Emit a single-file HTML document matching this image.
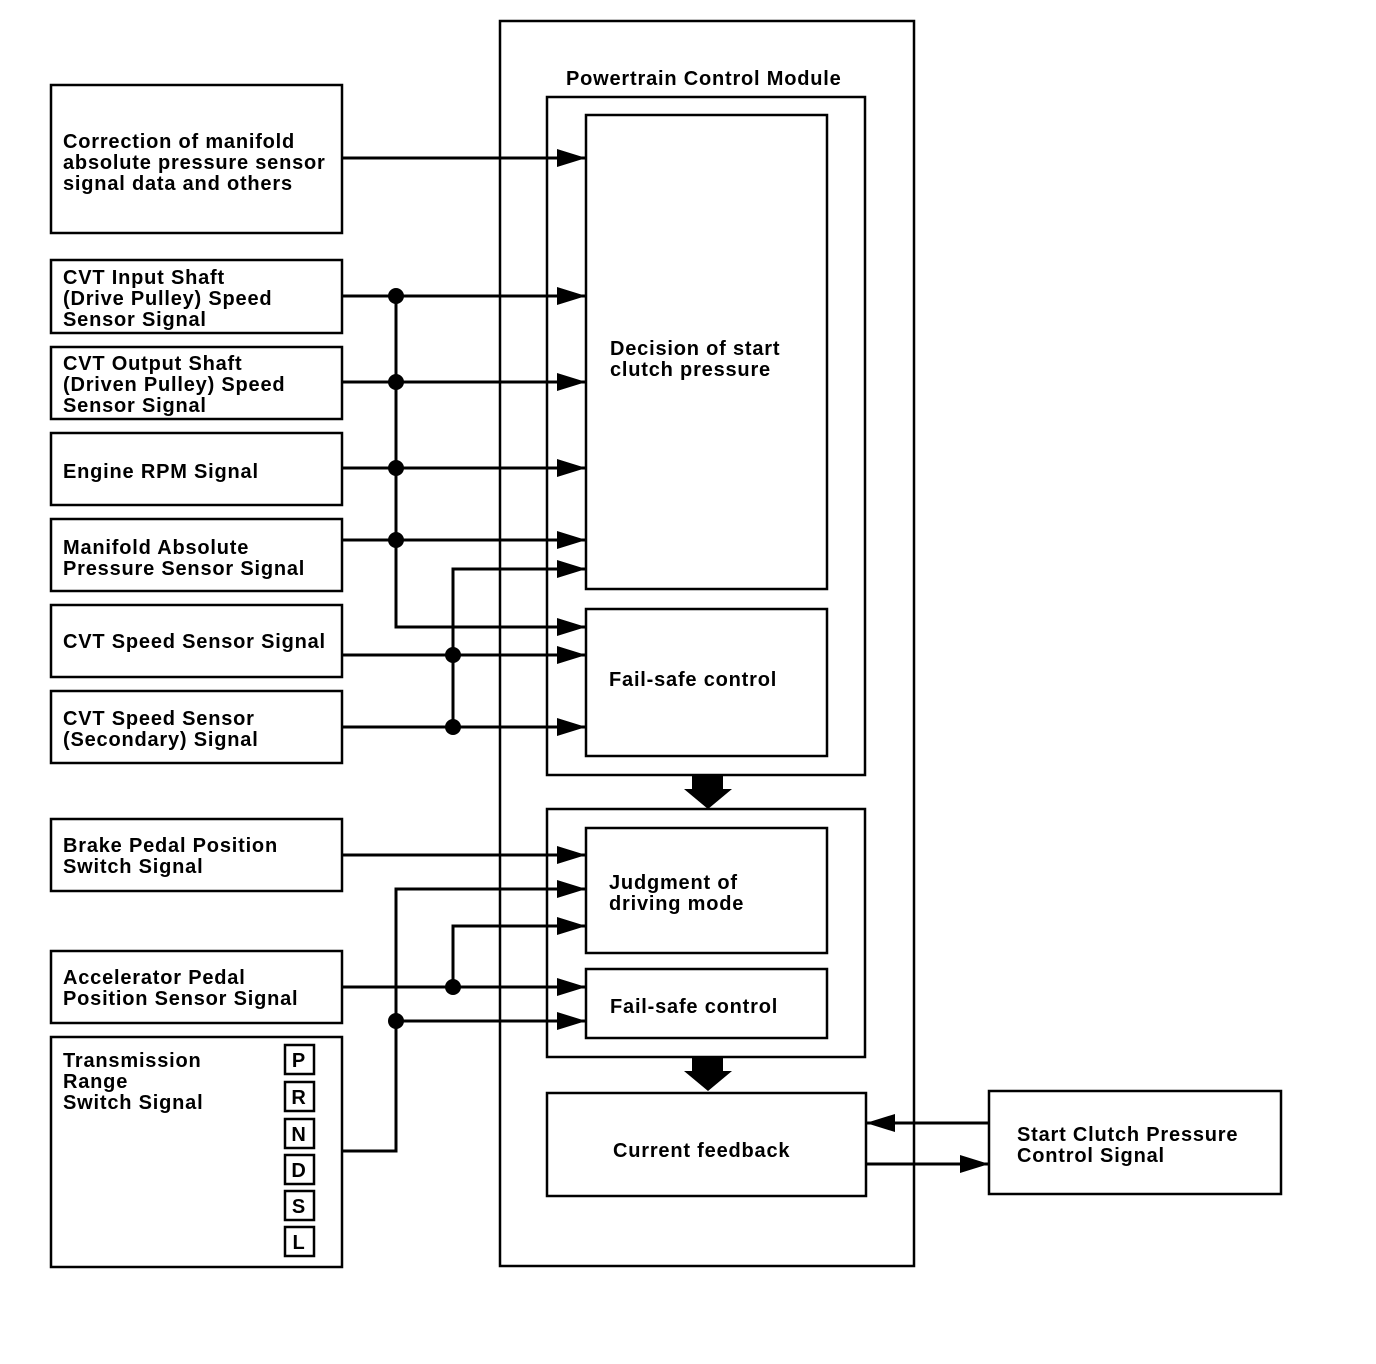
<!DOCTYPE html>
<html><head><meta charset="utf-8"><style>
html,body{margin:0;padding:0;background:#fff;}
svg{display:block;}
text{font-family:"Liberation Sans",Arial,sans-serif;font-weight:bold;font-size:20px;letter-spacing:0.8px;fill:#000;}
</style></head><body>
<svg width="1376" height="1364" viewBox="0 0 1376 1364" xmlns="http://www.w3.org/2000/svg">
<defs>
<marker id="ar" markerUnits="userSpaceOnUse" markerWidth="30" markerHeight="18" refX="29" refY="9" orient="auto">
<path d="M0,0 L29,9 L0,18 Z" fill="#000"/>
</marker>
</defs>
<g fill="none" stroke="#000" stroke-width="2.5">
<rect x="500" y="21" width="414" height="1245"/>
<rect x="547" y="97" width="318" height="678"/>
<rect x="586" y="115" width="241" height="474"/>
<rect x="586" y="609" width="241" height="147"/>
<rect x="547" y="809" width="318" height="248"/>
<rect x="586" y="828" width="241" height="125"/>
<rect x="586" y="969" width="241" height="69"/>
<rect x="547" y="1093" width="319" height="103"/>
<rect x="989" y="1091" width="292" height="103"/>
<rect x="51" y="85" width="291" height="148"/>
<rect x="51" y="260" width="291" height="73"/>
<rect x="51" y="347" width="291" height="72"/>
<rect x="51" y="433" width="291" height="72"/>
<rect x="51" y="519" width="291" height="72"/>
<rect x="51" y="605" width="291" height="72"/>
<rect x="51" y="691" width="291" height="72"/>
<rect x="51" y="819" width="291" height="72"/>
<rect x="51" y="951" width="291" height="72"/>
<rect x="51" y="1037" width="291" height="230"/>
<rect x="285" y="1045" width="29" height="29"/>
<rect x="285" y="1082" width="29" height="29"/>
<rect x="285" y="1119" width="29" height="29"/>
<rect x="285" y="1155" width="29" height="29"/>
<rect x="285" y="1191" width="29" height="29"/>
<rect x="285" y="1227" width="29" height="29"/>
</g>
<g fill="none" stroke="#000" stroke-width="3">
<line x1="342" y1="158" x2="586" y2="158" marker-end="url(#ar)"/>
<line x1="342" y1="296" x2="586" y2="296" marker-end="url(#ar)"/>
<line x1="342" y1="382" x2="586" y2="382" marker-end="url(#ar)"/>
<line x1="342" y1="468" x2="586" y2="468" marker-end="url(#ar)"/>
<line x1="342" y1="540" x2="586" y2="540" marker-end="url(#ar)"/>
<polyline points="453,727 453,569 586,569" marker-end="url(#ar)"/>
<polyline points="396,296 396,627 586,627" marker-end="url(#ar)"/>
<line x1="342" y1="655" x2="586" y2="655" marker-end="url(#ar)"/>
<line x1="342" y1="727" x2="586" y2="727" marker-end="url(#ar)"/>
<line x1="342" y1="855" x2="586" y2="855" marker-end="url(#ar)"/>
<polyline points="342,1151 396,1151 396,889 586,889" marker-end="url(#ar)"/>
<polyline points="453,987 453,926 586,926" marker-end="url(#ar)"/>
<line x1="342" y1="987" x2="586" y2="987" marker-end="url(#ar)"/>
<line x1="396" y1="1021" x2="586" y2="1021" marker-end="url(#ar)"/>
<line x1="989" y1="1123" x2="866" y2="1123" marker-end="url(#ar)"/>
<line x1="866" y1="1164" x2="989" y2="1164" marker-end="url(#ar)"/>
</g>
<g fill="#000">
<circle cx="396" cy="296" r="8"/><circle cx="396" cy="382" r="8"/>
<circle cx="396" cy="468" r="8"/><circle cx="396" cy="540" r="8"/>
<circle cx="453" cy="655" r="8"/><circle cx="453" cy="727" r="8"/>
<circle cx="453" cy="987" r="8"/><circle cx="396" cy="1021" r="8"/>
<path d="M692,775 H723 V789 H732 L708,809 L684,789 H692 Z"/>
<path d="M692,1057 H723 V1071 H732 L708,1091 L684,1071 H692 Z"/>
</g>
<text x="566" y="85">Powertrain Control Module</text>
<text x="63" y="148">Correction of manifold</text>
<text x="63" y="169">absolute pressure sensor</text>
<text x="63" y="190">signal data and others</text>
<text x="63" y="284">CVT Input Shaft</text>
<text x="63" y="305">(Drive Pulley) Speed</text>
<text x="63" y="326">Sensor Signal</text>
<text x="63" y="370">CVT Output Shaft</text>
<text x="63" y="391">(Driven Pulley) Speed</text>
<text x="63" y="412">Sensor Signal</text>
<text x="63" y="478">Engine RPM Signal</text>
<text x="63" y="554">Manifold Absolute</text>
<text x="63" y="575">Pressure Sensor Signal</text>
<text x="63" y="648">CVT Speed Sensor Signal</text>
<text x="63" y="725">CVT Speed Sensor</text>
<text x="63" y="746">(Secondary) Signal</text>
<text x="63" y="852">Brake Pedal Position</text>
<text x="63" y="873">Switch Signal</text>
<text x="63" y="984">Accelerator Pedal</text>
<text x="63" y="1005">Position Sensor Signal</text>
<text x="63" y="1067">Transmission</text>
<text x="63" y="1088">Range</text>
<text x="63" y="1109">Switch Signal</text>
<g text-anchor="middle">
<text x="299" y="1067">P</text><text x="299" y="1104">R</text>
<text x="299" y="1141">N</text><text x="299" y="1177">D</text>
<text x="299" y="1213">S</text><text x="299" y="1249">L</text>
</g>
<text x="610" y="355">Decision of start</text>
<text x="610" y="376">clutch pressure</text>
<text x="609" y="686">Fail-safe control</text>
<text x="609" y="889">Judgment of</text>
<text x="609" y="910">driving mode</text>
<text x="610" y="1013">Fail-safe control</text>
<text x="613" y="1157">Current feedback</text>
<text x="1017" y="1141">Start Clutch Pressure</text>
<text x="1017" y="1162">Control Signal</text>
</svg>
</body></html>
